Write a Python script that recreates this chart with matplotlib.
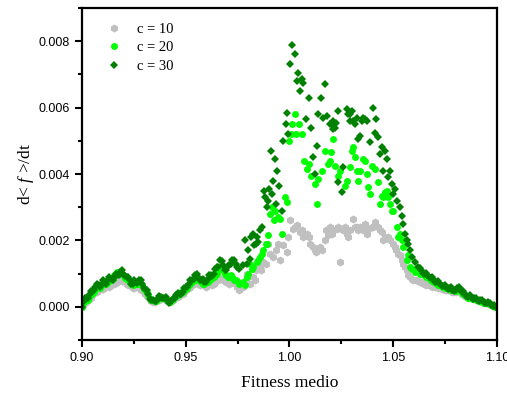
import matplotlib
matplotlib.use("Agg")
import matplotlib.pyplot as plt
from matplotlib.ticker import MultipleLocator, FormatStrFormatter
import numpy as np

plt.rcParams['mathtext.fontset'] = 'custom'
plt.rcParams['mathtext.it'] = 'Liberation Serif:italic'
plt.rcParams['mathtext.rm'] = 'Liberation Serif'

# tramo inicial comun (0.90 - 0.976)
x_ini = [0.9, 0.9005, 0.902, 0.9035, 0.905, 0.9065, 0.908, 0.9095, 0.911, 0.9125, 0.914,
         0.9155, 0.917, 0.9185, 0.92, 0.9215, 0.923, 0.9245, 0.926, 0.9275, 0.929,
         0.9305, 0.932, 0.9335, 0.935, 0.9365, 0.938, 0.9395, 0.941, 0.9425, 0.944,
         0.9455, 0.947, 0.9485, 0.95, 0.9515, 0.953, 0.9545, 0.956, 0.9575, 0.959,
         0.9605, 0.962, 0.9635, 0.965, 0.9665, 0.968, 0.9695, 0.971, 0.9725, 0.974,
         0.9755]
y30_ini = [0.0, 0.00015, 0.00025, 0.00035, 0.00045, 0.0006, 0.00065, 0.0007, 0.00075, 0.0008, 0.00085,
           0.0009, 0.00095, 0.00105, 0.001, 0.0009, 0.0008, 0.0007, 0.00075, 0.0008, 0.0007,
           0.00055, 0.0004, 0.0002, 0.00018, 0.00025, 0.0003, 0.00028, 0.0002, 0.00015, 0.00025,
           0.00035, 0.0004, 0.00045, 0.0006, 0.0007, 0.0008, 0.00095, 0.0009, 0.0008, 0.00075,
           0.00085, 0.00095, 0.001, 0.0012, 0.0014, 0.00125, 0.0011, 0.00125, 0.0014, 0.0013,
           0.00115]
y20_ini = [0.0, 0.0001, 0.0002, 0.0003, 0.0004, 0.00055, 0.0006, 0.00065, 0.0007, 0.00075, 0.0008,
           0.00095, 0.00105, 0.001, 0.00095, 0.00085, 0.00075, 0.00065, 0.0007, 0.00075, 0.00065,
           0.0005, 0.00035, 0.0002, 0.00018, 0.00025, 0.0003, 0.00028, 0.0002, 0.00015, 0.00025,
           0.00035, 0.0004, 0.00045, 0.00055, 0.00065, 0.00075, 0.0009, 0.00085, 0.00075, 0.0007,
           0.00075, 0.00085, 0.0009, 0.001, 0.0012, 0.0011, 0.00095, 0.0009, 0.0009, 0.0008,
           0.0007]
y10_ini = [-0.00002, 0.00005, 0.00015, 0.00025, 0.00035, 0.00045, 0.0005, 0.00055, 0.0006, 0.00062, 0.00065,
           0.0007, 0.00075, 0.0008, 0.00078, 0.0007, 0.00065, 0.00058, 0.0006, 0.00058, 0.0005,
           0.0004, 0.0003, 0.00018, 0.00015, 0.0002, 0.00025, 0.00025, 0.00018, 0.00015, 0.0002,
           0.0003, 0.00035, 0.0004, 0.0005, 0.00058, 0.00065, 0.00075, 0.0007, 0.00068, 0.00065,
           0.00065, 0.0007, 0.00068, 0.0008, 0.00085, 0.0008, 0.00075, 0.0007, 0.00075, 0.00068,
           0.0005]

# puntos intermedios del tramo inicial
x_ini_b = [0.90125, 0.90275, 0.90425, 0.90575, 0.90725, 0.90875, 0.91025, 0.91175, 0.91325, 0.91475,
           0.91625, 0.91775, 0.91925, 0.92075, 0.92225, 0.92375, 0.92525, 0.92675, 0.92825, 0.92975,
           0.93125, 0.93275, 0.93425, 0.93575, 0.93725, 0.93875, 0.94025, 0.94175, 0.94325, 0.94475,
           0.94625, 0.94775, 0.94925, 0.95075, 0.95225, 0.95375, 0.95525, 0.95675, 0.95825, 0.95975,
           0.96125, 0.96275, 0.96425, 0.96575, 0.96725, 0.96875, 0.97025, 0.97175, 0.97325, 0.97475]
y30_ini_b = [0.00028, 0.00027, 0.00048, 0.0005, 0.0007, 0.0006, 0.0008, 0.0007, 0.0009, 0.0008,
             0.001, 0.00095, 0.0011, 0.00092, 0.0009, 0.0007, 0.0008, 0.00072, 0.0008, 0.00058,
             0.0005, 0.00025, 0.00022, 0.00018, 0.00032, 0.00026, 0.0003, 0.00012, 0.00022, 0.00028,
             0.00042, 0.00038, 0.00058, 0.0006, 0.0008, 0.00085, 0.001, 0.0008, 0.00085, 0.00075,
             0.00095, 0.00092, 0.00115, 0.0012, 0.00138, 0.00112, 0.00122, 0.0013, 0.00142, 0.0012]
y20_ini_b = [0.00018, 0.00022, 0.00038, 0.00045, 0.00062, 0.00058, 0.00072, 0.00068, 0.00082, 0.00085,
             0.00102, 0.00098, 0.001, 0.00088, 0.00082, 0.00068, 0.00072, 0.00068, 0.0007, 0.00055,
             0.00045, 0.00025, 0.0002, 0.00018, 0.0003, 0.00027, 0.00025, 0.00015, 0.0002, 0.0003,
             0.00035, 0.00044, 0.0005, 0.00058, 0.0007, 0.00085, 0.0008, 0.00082, 0.0007, 0.00075,
             0.0008, 0.0009, 0.00095, 0.0011, 0.00115, 0.001, 0.0009, 0.00095, 0.00082, 0.00078]
y10_ini_b = [0.00012, 0.0002, 0.00028, 0.00042, 0.00045, 0.00055, 0.00055, 0.00063, 0.0006, 0.0007,
             0.00071, 0.0008, 0.00077, 0.00075, 0.00066, 0.00063, 0.00057, 0.00062, 0.00052, 0.00047,
             0.00033, 0.00025, 0.00014, 0.00018, 0.00022, 0.00027, 0.0002, 0.00015, 0.00018, 0.00026,
             0.00031, 0.0004, 0.00044, 0.00055, 0.00061, 0.0007, 0.00075, 0.00066, 0.00068, 0.0006,
             0.00069, 0.00066, 0.00075, 0.0008, 0.00085, 0.00078, 0.00074, 0.00072, 0.00072, 0.0006]

# tramo central, c = 30
x30_cen = [0.9777, 0.9786, 0.9802, 0.9815, 0.9826, 0.9838, 0.9849, 0.9858, 0.9875, 0.9884,
           0.989, 0.9899, 0.9909, 0.9922, 0.993, 0.9941, 0.9951, 0.9962, 0.997, 0.9981,
           0.9989, 1.0002, 1.001, 1.0027, 1.0043, 1.0051, 1.0059, 1.0067, 1.008, 1.0092,
           1.0102, 1.0112, 1.0121, 1.0131, 1.0139, 1.015, 1.0163, 1.0171, 1.0179, 1.0195,
           1.0203, 1.0212, 1.0219, 1.0232, 1.0234, 1.0251, 1.0258, 1.0275, 1.0284, 1.0292,
           1.0299, 1.0307, 1.0316, 1.0331, 1.034, 1.0356, 1.0364, 1.0373, 1.0388, 1.04,
           1.0412, 1.0418, 1.0428, 1.0444, 1.0452, 1.046, 1.0468, 1.0484, 1.0492, 1.0508,
           1.0519, 1.0533, 1.054, 1.0557, 1.0573, 1.0589, 1.0603,
           0.9795, 0.981, 0.983, 0.9842, 0.9866, 0.9895, 0.9915, 0.9935, 0.9995, 1.0035,
           1.0209, 1.0225, 1.0292, 1.0324, 1.0348, 1.0436, 1.0476, 1.05, 1.0548, 1.0565,
           1.058]
y30_cen = [0.00125, 0.002, 0.0017, 0.0021, 0.0022, 0.0019, 0.00195, 0.0023, 0.0035, 0.0033,
           0.003, 0.00355, 0.0047, 0.0038, 0.00445, 0.0041, 0.00365, 0.0029, 0.005, 0.0055,
           0.00585, 0.0073, 0.0079, 0.0076, 0.00705, 0.0065, 0.00685, 0.00675, 0.00565, 0.0063,
           0.0054, 0.0045, 0.004, 0.00485, 0.0058, 0.0063, 0.0057, 0.0067, 0.00575, 0.0055,
           0.0055, 0.00535, 0.0054, 0.0059, 0.00375, 0.00345, 0.0042, 0.00595, 0.0058, 0.0058,
           0.0059, 0.0056, 0.0055, 0.00505, 0.00515, 0.0057, 0.00565, 0.0056, 0.00495, 0.006,
           0.00525, 0.00565, 0.0051, 0.0048, 0.0041, 0.0047, 0.00445, 0.0041, 0.0037, 0.00355,
           0.0032, 0.003, 0.00275, 0.0022, 0.0019, 0.0015, 0.00135,
           0.0013, 0.00145, 0.00185, 0.0021, 0.0024, 0.0032, 0.0034, 0.0031, 0.0052, 0.0068,
           0.0056, 0.00555, 0.0056, 0.0057, 0.0056, 0.0046, 0.0039, 0.0034, 0.0025, 0.002,
           0.0017]

# tramo central, c = 20
x20_cen = [0.9777, 0.9786, 0.98, 0.981, 0.9826, 0.9842, 0.9858, 0.9874, 0.9885, 0.9898,
           0.9906, 0.9915, 0.993, 0.9947, 0.9954, 0.9962, 0.998, 0.9989, 0.9999, 1.001,
           1.0025, 1.0031, 1.0047, 1.006, 1.007, 1.0082, 1.0092, 1.0104, 1.0123, 1.0131,
           1.0139, 1.0155, 1.0171, 1.0187, 1.02, 1.0212, 1.0219, 1.0234, 1.0267, 1.0275,
           1.0292, 1.0299, 1.0307, 1.0324, 1.0331, 1.034, 1.0356, 1.0364, 1.0373, 1.0388,
           1.0397, 1.0412, 1.0428, 1.0436, 1.0444, 1.046, 1.0468, 1.0484, 1.0492, 1.05,
           1.0516, 1.0533, 1.0549, 1.0573, 1.0589, 1.0603,
           0.9795, 0.9818, 0.985, 0.9866, 0.989, 0.9925, 1.0005, 1.0196, 1.0243, 1.0316,
           1.038, 1.0452, 1.0476, 1.0525, 1.0541, 1.0565, 1.058]
y20_cen = [0.00075, 0.00065, 0.001, 0.0013, 0.0012, 0.00135, 0.0015, 0.0017, 0.0019, 0.00215,
           0.0028, 0.003, 0.0029, 0.0027, 0.00265, 0.0022, 0.0033, 0.00315, 0.005, 0.0055,
           0.0058, 0.0052, 0.0055, 0.0052, 0.0044, 0.00415, 0.0043, 0.00395, 0.0037, 0.0031,
           0.00385, 0.0041, 0.0047, 0.0043, 0.00465, 0.00505, 0.00425, 0.00395, 0.00365, 0.0038,
           0.0042, 0.0047, 0.0048, 0.0041, 0.0038, 0.0041, 0.00445, 0.0044, 0.004, 0.0034,
           0.00425, 0.00415, 0.00375, 0.0031, 0.00335, 0.00345, 0.0035, 0.0031, 0.0029, 0.0029,
           0.0024, 0.0022, 0.0018, 0.00155, 0.00115, 0.00105,
           0.0009, 0.00115, 0.0014, 0.0016, 0.0019, 0.0026, 0.0052, 0.0044, 0.0041, 0.0045,
           0.0036, 0.0033, 0.0033, 0.0021, 0.002, 0.0014, 0.0012]

# tramo central, c = 10
x10_cen = [0.9777, 0.979, 0.981, 0.9826, 0.984, 0.9858, 0.987, 0.9885, 0.9906, 0.992,
           0.9935, 0.9954, 0.997, 0.9986, 1.0002, 1.0018, 1.0034, 1.005, 1.0066, 1.0082,
           1.01, 1.0115, 1.013, 1.0145, 1.0155, 1.017, 1.0187, 1.0195, 1.0211, 1.0227,
           1.0243, 1.026, 1.0275, 1.0292, 1.0307, 1.0324, 1.034, 1.0356, 1.038, 1.0396,
           1.0412, 1.0428, 1.0444, 1.046, 1.0484, 1.05, 1.0515, 1.0533, 1.0549, 1.0564,
           1.058, 1.0597,
           0.9795, 0.9835, 0.9865, 0.9895, 0.9945, 0.9995, 1.0025, 1.0058, 1.0092, 1.0122,
           1.0178, 1.0203, 1.0235, 1.0267, 1.0284, 1.0316, 1.0332, 1.0364, 1.0372, 1.0404,
           1.0436, 1.0452, 1.0476, 1.0508, 1.0525, 1.0541, 1.0556, 1.0572, 1.0589, 1.061]
y10_cen = [0.0006, 0.0008, 0.0007, 0.0009, 0.0011, 0.0012, 0.00135, 0.0013, 0.0016, 0.0015,
           0.0017, 0.0014, 0.00185, 0.00165, 0.0026, 0.00235, 0.00245, 0.00225, 0.0021, 0.0022,
           0.0019, 0.0018, 0.00165, 0.0018, 0.0017, 0.002, 0.00215, 0.0024, 0.0023, 0.00235,
           0.00135, 0.0023, 0.0022, 0.0023, 0.00265, 0.0024, 0.0024, 0.0023, 0.00235, 0.0024,
           0.00255, 0.0024, 0.00225, 0.0021, 0.002, 0.0019, 0.0017, 0.00155, 0.0013, 0.0011,
           0.0009, 0.0008,
           0.001, 0.0008, 0.0011, 0.0019, 0.0019, 0.0021, 0.0024, 0.0023, 0.0021, 0.0017,
           0.0023, 0.0022, 0.0024, 0.0024, 0.0021, 0.0024, 0.0023, 0.0025, 0.0022, 0.0024,
           0.0023, 0.002, 0.0021, 0.0018, 0.0016, 0.0014, 0.0012, 0.00095, 0.00085, 0.0008]

# cola final (1.062 - 1.10)
x_fin = [1.062, 1.0635, 1.065, 1.0665, 1.068, 1.0695, 1.071, 1.0725, 1.074, 1.0755,
         1.077, 1.0785, 1.08, 1.0815, 1.083, 1.0845, 1.086, 1.0875, 1.089, 1.0905,
         1.092, 1.0935, 1.095, 1.0965, 1.098, 1.0995]
y30_fin = [0.0012, 0.0011, 0.001, 0.00095, 0.00088, 0.0008, 0.00075, 0.0007, 0.00062, 0.0006,
           0.00058, 0.00052, 0.0005, 0.0006, 0.00045, 0.0004, 0.0003, 0.0003, 0.00028, 0.00022,
           0.0002, 0.00015, 0.00012, 0.0001, 0.00003, 0.0]
y20_fin = [0.00105, 0.001, 0.00095, 0.0009, 0.00082, 0.00075, 0.0007, 0.00065, 0.0006, 0.00056,
           0.00054, 0.0005, 0.00047, 0.00055, 0.00042, 0.00037, 0.00028, 0.00027, 0.00025, 0.0002,
           0.00018, 0.00013, 0.0001, 0.00008, 0.00002, -0.00001]
y10_fin = [0.00078, 0.00075, 0.0007, 0.00068, 0.00065, 0.00062, 0.0006, 0.00058, 0.00055, 0.00052,
           0.0005, 0.00046, 0.00044, 0.0005, 0.0004, 0.00035, 0.00028, 0.00026, 0.00024, 0.0002,
           0.00017, 0.00013, 0.0001, 0.00008, 0.00002, -0.00002]

x_fin_b = [1.06275, 1.06425, 1.06575, 1.06725, 1.06875, 1.07025, 1.07175, 1.07325, 1.07475, 1.07625,
           1.07775, 1.07925, 1.08075, 1.08225, 1.08375, 1.08525, 1.08675, 1.08825, 1.08975, 1.09125,
           1.09275, 1.09425, 1.09575, 1.09725, 1.09875]
y30_fin_b = [0.00118, 0.00102, 0.00102, 0.0009, 0.0009, 0.00074, 0.00077, 0.00063, 0.00066, 0.00055,
             0.0006, 0.00048, 0.00058, 0.00055, 0.00048, 0.00033, 0.00036, 0.00025, 0.00027, 0.00018,
             0.0002, 0.0001, 0.00014, 0.00005, 0.00004]
y20_fin_b = [0.00098, 0.00098, 0.0009, 0.00088, 0.00077, 0.00074, 0.00066, 0.00064, 0.00057, 0.00057,
             0.0005, 0.0005, 0.0005, 0.0005, 0.0004, 0.00032, 0.00029, 0.00024, 0.00024, 0.00017,
             0.00016, 0.0001, 0.0001, 0.00004, 0.00001]
y10_fin_b = [0.00074, 0.00073, 0.00067, 0.00066, 0.0006, 0.0006, 0.00057, 0.00055, 0.0005, 0.0005,
             0.00047, 0.00044, 0.00047, 0.00045, 0.00036, 0.0003, 0.00027, 0.00023, 0.00021, 0.00018,
             0.00014, 0.00012, 0.00007, 0.00006, 0.0]

series = [
    ("c = 10", [y10_ini, y10_ini_b, y10_cen, y10_fin, y10_fin_b], x10_cen, "#C0C0C0", "h", 5.8),
    ("c = 20", [y20_ini, y20_ini_b, y20_cen, y20_fin, y20_fin_b], x20_cen, "#00FF00", "o", 5.0),
    ("c = 30", [y30_ini, y30_ini_b, y30_cen, y30_fin, y30_fin_b], x30_cen, "#008000", "D", 3.7),
]

fig = plt.figure(figsize=(5.07, 3.94), dpi=100)
ax = fig.add_axes([0.1617, 0.137, 0.8186, 0.8427])

for label, ylist, x_cen, col, mk, ms in series:
    xs = np.concatenate([x_ini, x_ini_b, x_cen, x_fin, x_fin_b])
    ys = np.concatenate(ylist)
    ax.plot(xs, ys, linestyle="none", marker=mk, markersize=ms,
            color=col, markeredgewidth=0, label=label)

ax.set_xlim(0.90, 1.10)
ax.set_ylim(-0.001, 0.009)
ax.xaxis.set_major_locator(MultipleLocator(0.05))
ax.xaxis.set_minor_locator(MultipleLocator(0.025))
ax.yaxis.set_major_locator(MultipleLocator(0.002))
ax.yaxis.set_minor_locator(MultipleLocator(0.001))
ax.xaxis.set_major_formatter(FormatStrFormatter("%.2f"))
ax.yaxis.set_major_formatter(FormatStrFormatter("%.3f"))
ax.tick_params(which="major", direction="out", length=5, width=1.5,
               labelsize=9, top=False, right=False)
ax.tick_params(which="minor", direction="out", length=3, width=1.5,
               top=False, right=False)
for lab in ax.get_xticklabels() + ax.get_yticklabels():
    lab.set_fontfamily("Liberation Sans")
for sp in ax.spines.values():
    sp.set_linewidth(1.6)

ax.set_xlabel("Fitness medio", fontfamily="Liberation Serif", fontsize=12.5, labelpad=8)
ax.set_ylabel(r"d< $f$ >/dt", fontfamily="Liberation Serif", fontsize=12.5, labelpad=2)

leg = ax.legend(loc="upper left", frameon=False, bbox_to_anchor=(0.02, 0.995),
                prop={"family": "Liberation Serif", "size": 10.5},
                handletextpad=0.8, labelspacing=0.35, handlelength=1.5)

fig.savefig("out.png", dpi=100)
